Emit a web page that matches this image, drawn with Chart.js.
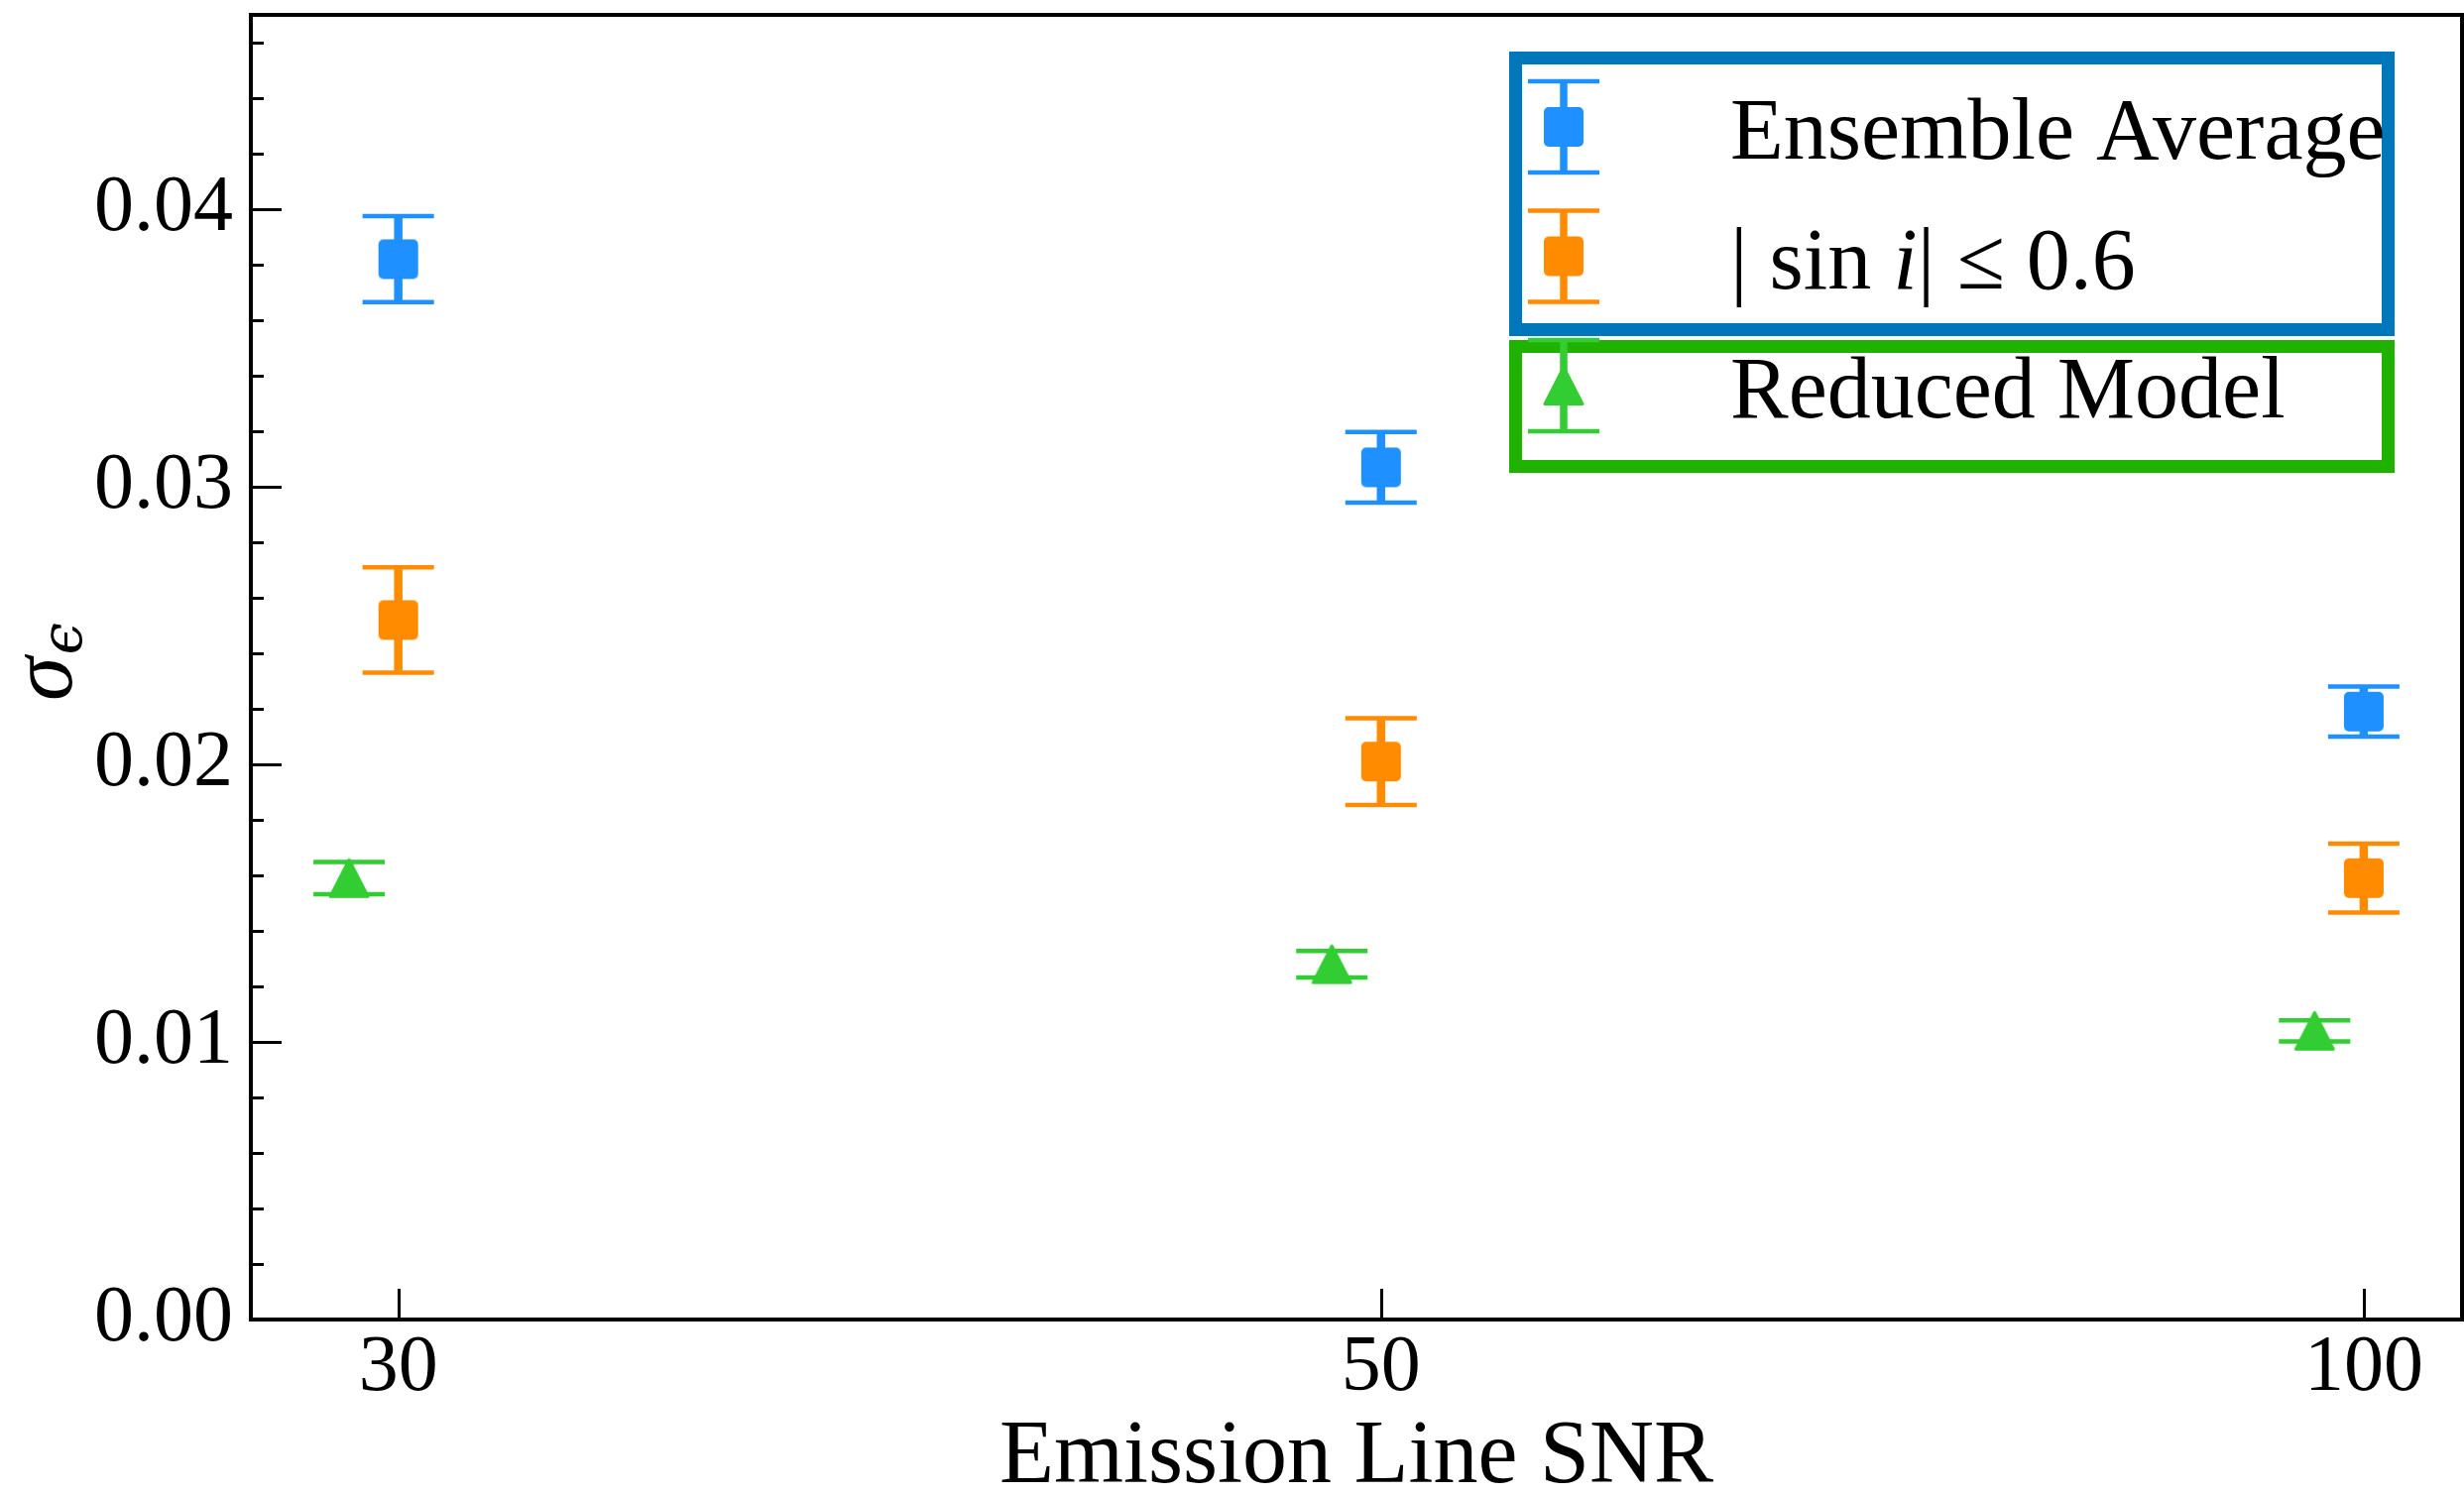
<!DOCTYPE html>
<html lang="en">
<head>
<meta charset="UTF-8">
<title>Emission Line SNR</title>
<script src="https://cdn.jsdelivr.net/npm/chart.js@4"></script>
<style>
  html, body { margin: 0; padding: 0; background: #fff; overflow: hidden; }
  canvas { display: block; }
</style>
</head>
<body>
<canvas id="chart" width="2485" height="1507"></canvas>
<script>
  // values
  const snrLabels = ['30', '50', '100'];
  const ensembleMean = [0.0382, 0.0307, 0.0219];
  const ensembleErr = [0.00155, 0.00127, 0.0009];
  const lowSinMean = [0.0252, 0.0201, 0.0159];
  const lowSinErr = [0.0019, 0.00156, 0.00124];
  const reducedMean = [0.0159, 0.0128, 0.0104];
  const reducedErr = [0.00058, 0.00048, 0.00038];
  const reducedShift = -0.05;
  const yMajor = [0, 0.01, 0.02, 0.03, 0.04];
  const yMinorStep = 0.002;

  const SERIF = '"Liberation Serif", "DejaVu Serif", serif';

  function squareMarker(color) {
    const c = document.createElement('canvas');
    c.width = 42; c.height = 42;
    const g = c.getContext('2d');
    g.fillStyle = color;
    g.beginPath();
    g.roundRect(1, 1, 40, 40, 5);
    g.fill();
    return c;
  }

  function triangleMarker(color) {
    const c = document.createElement('canvas');
    c.width = 44; c.height = 44;
    const g = c.getContext('2d');
    g.fillStyle = color;
    g.strokeStyle = color;
    g.lineWidth = 3;
    g.lineJoin = 'round';
    g.beginPath();
    g.moveTo(22, 3.5);
    g.lineTo(41, 40.5);
    g.lineTo(3, 40.5);
    g.closePath();
    g.fill();
    g.stroke();
    return c;
  }

  function toPoints(means, shift) {
    return means.map((v, i) => ({ x: i + shift, y: v }));
  }

  const datasets = [
    {
      label: 'Ensemble Average',
      data: toPoints(ensembleMean, 0),
      errors: ensembleErr,
      borderColor: '#1E90FF',
      backgroundColor: '#1E90FF',
      pointStyle: squareMarker('#1E90FF'),
      pointRadius: 20
    },
    {
      label: '| sin i| ≤ 0.6',
      data: toPoints(lowSinMean, 0),
      errors: lowSinErr,
      borderColor: '#FF8C00',
      backgroundColor: '#FF8C00',
      pointStyle: squareMarker('#FF8C00'),
      pointRadius: 20
    },
    {
      label: 'Reduced Model',
      data: toPoints(reducedMean, reducedShift),
      errors: reducedErr,
      borderColor: '#32CD32',
      backgroundColor: '#32CD32',
      pointStyle: triangleMarker('#32CD32'),
      pointRadius: 20
    }
  ];

  // error bars drawn under the markers
  const errorBars = {
    id: 'errorBars',
    beforeDatasetsDraw(chart) {
      const { ctx, scales: { x, y } } = chart;
      chart.data.datasets.forEach((ds) => {
        ctx.save();
        ctx.strokeStyle = ds.borderColor;
        ds.data.forEach((pt, j) => {
          const px = x.getPixelForValue(pt.x);
          const top = y.getPixelForValue(pt.y + ds.errors[j]);
          const bot = y.getPixelForValue(pt.y - ds.errors[j]);
          ctx.lineWidth = 8.5;
          ctx.beginPath();
          ctx.moveTo(px, top);
          ctx.lineTo(px, bot);
          ctx.stroke();
          ctx.lineWidth = 4.5;
          ctx.beginPath();
          ctx.moveTo(px - 36, top); ctx.lineTo(px + 36, top);
          ctx.moveTo(px - 36, bot); ctx.lineTo(px + 36, bot);
          ctx.stroke();
        });
        ctx.restore();
      });
    }
  };

  // frame + inward ticks like matplotlib
  const frameTicks = {
    id: 'frameTicks',
    afterDraw(chart) {
      const { ctx, chartArea: a, scales: { x, y } } = chart;
      ctx.save();
      ctx.strokeStyle = '#000';
      ctx.lineWidth = 3;
      ctx.beginPath();
      y.ticks.forEach(t => {
        const py = Math.round(y.getPixelForValue(t.value)) + 0.5;
        const major = yMajor.some(v => Math.abs(v - t.value) < 1e-9);
        ctx.moveTo(a.left, py);
        ctx.lineTo(a.left + (major ? 31 : 13), py);
      });
      x.ticks.forEach(t => {
        const px = Math.round(x.getPixelForValue(t.value)) + 0.5;
        ctx.moveTo(px, a.bottom);
        ctx.lineTo(px, a.bottom - 31);
      });
      ctx.stroke();
      ctx.lineWidth = 4;
      ctx.strokeRect(a.left, a.top, a.right - a.left, a.bottom - a.top);
      ctx.restore();
    }
  };

  // y title: sigma with epsilon subscript
  const yTitle = {
    id: 'yTitle',
    afterDraw(chart) {
      const { ctx, chartArea: a } = chart;
      const cy = (a.top + a.bottom) / 2;
      ctx.save();
      ctx.fillStyle = '#000';
      ctx.translate(72, cy + 34);
      ctx.rotate(-Math.PI / 2);
      ctx.textAlign = 'left';
      ctx.textBaseline = 'alphabetic';
      ctx.font = 'italic 90px ' + SERIF;
      ctx.fillText('σ', 0, 0);
      const w = ctx.measureText('σ').width;
      ctx.font = 'italic 58px "DejaVu Serif", ' + SERIF;
      ctx.fillText('ϵ', w + 2, 10);
      ctx.restore();
    }
  };

  function drawLabel(ctx, text, x, y) {
    const parts = text.split(/(\bi\b)/);
    let cx = x;
    parts.forEach(p => {
      if (!p) return;
      ctx.font = (p === 'i' ? 'italic ' : '') + '88px ' + SERIF;
      ctx.fillText(p, cx, y);
      cx += ctx.measureText(p).width;
    });
  }

  // two framed legend groups
  const legendGroups = {
    id: 'legendGroups',
    afterDraw(chart) {
      const { ctx } = chart;
      const groups = [
        { color: '#0077BB', items: [0, 1], top: 52, bottom: 339 },
        { color: '#20B200', items: [2], top: 343, bottom: 477 }
      ];
      const left = 1522, right = 2415, bw = 13;
      const handleX = 1577, textX = 1745;
      ctx.save();
      let row = 0;
      groups.forEach(g => {
        ctx.fillStyle = '#fff';
        ctx.fillRect(left, g.top, right - left, g.bottom - g.top);
        ctx.strokeStyle = g.color;
        ctx.lineWidth = bw;
        ctx.strokeRect(left + bw / 2, g.top + bw / 2, right - left - bw, g.bottom - g.top - bw);
        g.items.forEach(i => {
          const ds = chart.data.datasets[i];
          const cy = 128 + row * 130.5;
          ctx.strokeStyle = ds.borderColor;
          ctx.lineWidth = 7.5;
          ctx.beginPath();
          ctx.moveTo(handleX, cy - 46); ctx.lineTo(handleX, cy + 46);
          ctx.stroke();
          ctx.lineWidth = 4.5;
          ctx.beginPath();
          ctx.moveTo(handleX - 36, cy - 46); ctx.lineTo(handleX + 36, cy - 46);
          ctx.moveTo(handleX - 36, cy + 46); ctx.lineTo(handleX + 36, cy + 46);
          ctx.stroke();
          const img = ds.pointStyle;
          ctx.drawImage(img, handleX - img.width / 2, cy - img.height / 2);
          ctx.fillStyle = '#000';
          ctx.textBaseline = 'alphabetic';
          ctx.textAlign = 'left';
          drawLabel(ctx, ds.label, textX, cy + 32);
          row++;
        });
      });
      ctx.restore();
    }
  };

  const chart = new Chart(document.getElementById('chart'), {
    type: 'scatter',
    data: { datasets: datasets },
    plugins: [errorBars, frameTicks, yTitle, legendGroups],
    options: {
      responsive: false,
      animation: false,
      devicePixelRatio: 1,
      layout: { autoPadding: false, padding: { top: 15, right: 2, left: 0, bottom: 0 } },
      plugins: {
        legend: { display: false },
        tooltip: { enabled: false }
      },
      scales: {
        x: {
          type: 'linear',
          min: -0.15,
          max: 2.1,
          grid: { display: false, drawTicks: false },
          border: { display: false },
          afterBuildTicks(scale) {
            scale.ticks = snrLabels.map((_, i) => ({ value: i }));
          },
          afterFit(scale) {
            scale.height = 176;
            scale.paddingLeft = 0;
            scale.paddingRight = 0;
          },
          ticks: {
            color: '#000',
            padding: 2,
            maxRotation: 0,
            autoSkip: false,
            font: { family: SERIF, size: 80 },
            callback: (v) => snrLabels[v] ?? ''
          },
          title: {
            display: true,
            text: 'Emission Line SNR',
            color: '#000',
            padding: 0,
            font: { family: SERIF, size: 90, lineHeight: 0.8 }
          }
        },
        y: {
          min: 0,
          max: 0.047,
          grid: { display: false, drawTicks: false },
          border: { display: false },
          afterBuildTicks(scale) {
            const ticks = [];
            for (let k = 0; k * yMinorStep <= 0.0465; k++) {
              ticks.push({ value: +(k * yMinorStep).toFixed(4) });
            }
            scale.ticks = ticks;
          },
          afterFit(scale) {
            scale.width = 253;
            scale.paddingTop = 0;
            scale.paddingBottom = 0;
          },
          ticks: {
            color: '#000',
            padding: 18,
            autoSkip: false,
            font: { family: SERIF, size: 80 },
            callback: (v) => yMajor.some(m => Math.abs(m - v) < 1e-9) ? v.toFixed(2) : ''
          }
        }
      }
    }
  });
</script>
</body>
</html>
